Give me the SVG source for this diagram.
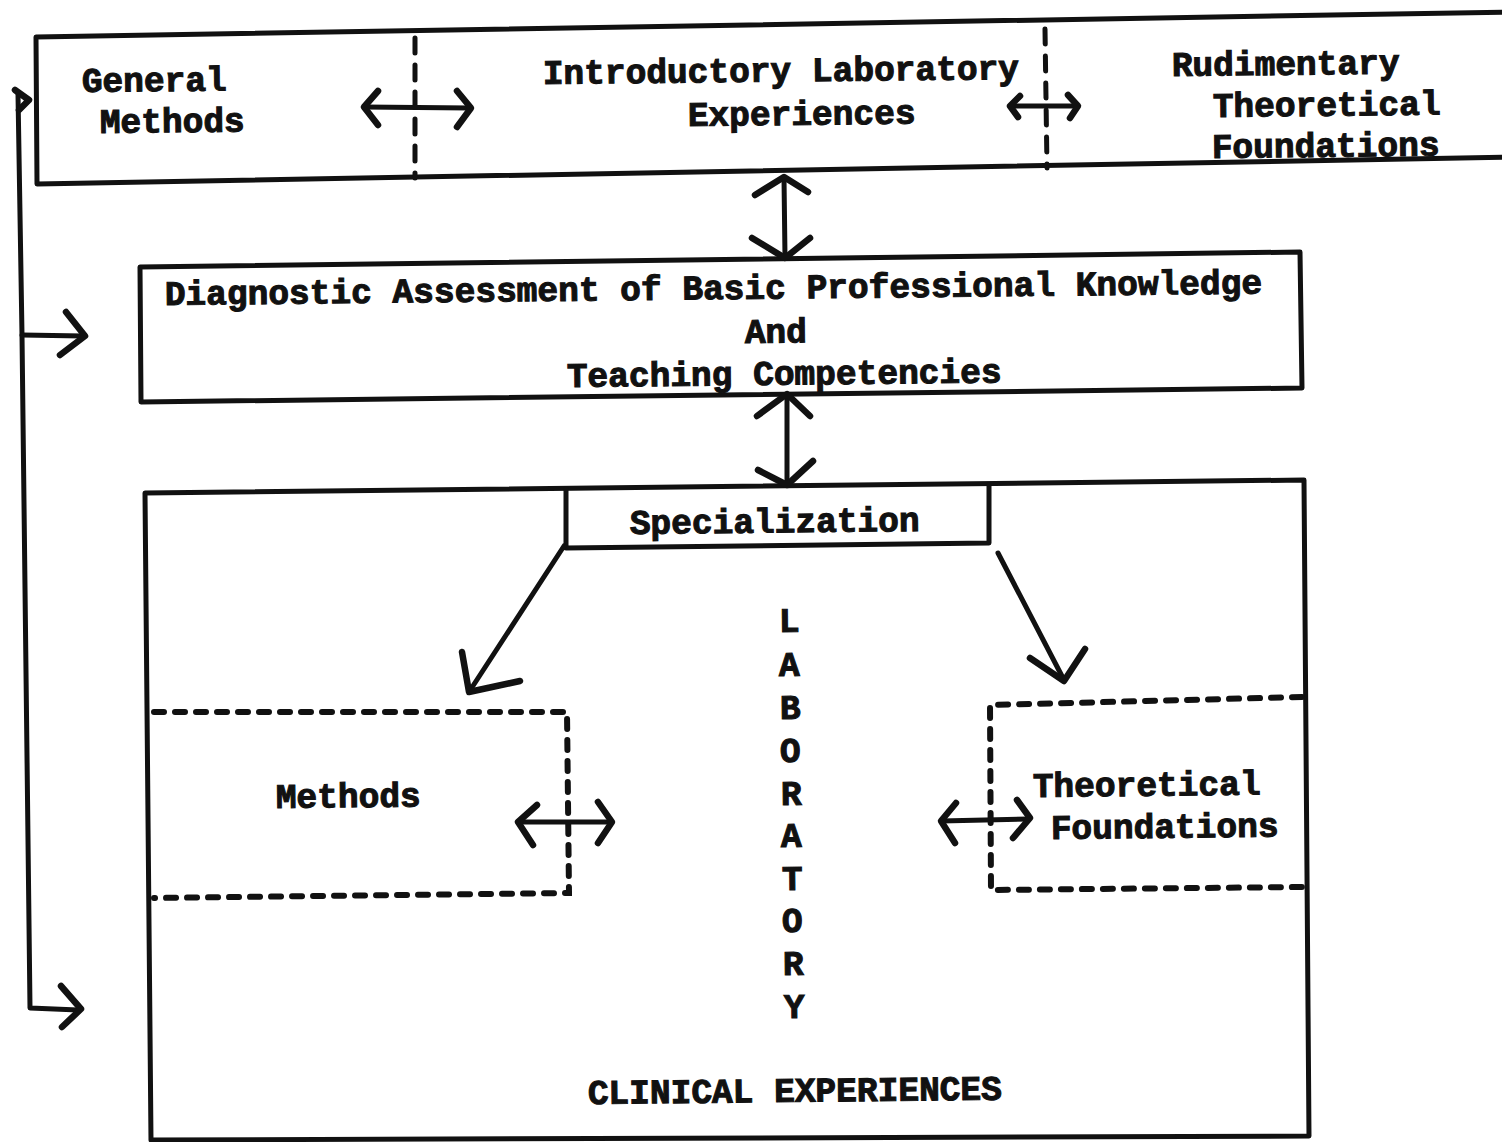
<svg xmlns="http://www.w3.org/2000/svg" width="1502" height="1142" viewBox="0 0 1502 1142">
  <style>
    .bg { fill: #ffffff; }
    .box { fill: none; stroke: #111; stroke-width: 5; stroke-linejoin: round; stroke-linecap: round; }
    .dash { fill: none; stroke: #111; stroke-width: 6; stroke-linecap: round; stroke-dasharray: 10 11; }
    .divider { fill: none; stroke: #111; stroke-width: 5; stroke-linecap: round; stroke-dasharray: 15 12; }
    .wire { fill: none; stroke: #111; stroke-width: 5; stroke-linecap: round; stroke-linejoin: round; }
    .head { fill: none; stroke: #111; stroke-width: 6.5; stroke-linecap: round; stroke-linejoin: round; }
    .lbl { font-family: "Liberation Mono", "Courier New", monospace; font-weight: bold; font-size: 34.5px; fill: #111; stroke: #111; stroke-width: 1.1;
           transform-box: fill-box; transform-origin: left bottom; transform: rotate(-0.6deg); }
  </style>

  <rect class="bg" x="0" y="0" width="1502" height="1142"/>

  <!-- Top row: three preparatory components in one frame -->
  <g id="node-foundation-row">
    <polyline class="box" points="1512,12 36,37 37,184 1512,157"/>
    <line class="divider" x1="415" y1="38" x2="415" y2="178"/>
    <line class="divider" x1="1045" y1="29" x2="1047" y2="168" stroke-dasharray="18 28 12 46 1 40 22 0"/>
    <g id="node-general-methods">
      <text class="lbl" x="82" y="92">General</text>
      <text class="lbl" x="100" y="133">Methods</text>
    </g>
    <g id="node-intro-lab">
      <text class="lbl" x="543" y="84">Introductory Laboratory</text>
      <text class="lbl" x="688" y="126">Experiences</text>
    </g>
    <g id="node-rudimentary">
      <text class="lbl" x="1172" y="76">Rudimentary</text>
      <text class="lbl" x="1213" y="117">Theoretical</text>
      <text class="lbl" x="1212" y="158">Foundations</text>
    </g>
  </g>

  <!-- Diagnostic assessment -->
  <g id="node-diagnostic">
    <polygon class="box" points="140,267 1300,252 1302,388 141,402"/>
    <text class="lbl" x="165" y="305">Diagnostic Assessment of Basic Professional Knowledge</text>
    <text class="lbl" x="745" y="343">And</text>
    <text class="lbl" x="567" y="387">Teaching Competencies</text>
  </g>

  <!-- Clinical experiences frame -->
  <g id="node-clinical">
    <polygon class="box" points="145,493 1304,480 1309,1136 151,1140"/>
    <text class="lbl" x="588" y="1104">CLINICAL EXPERIENCES</text>
  </g>

  <!-- Specialization tab -->
  <g id="node-specialization">
    <polyline class="box" points="566,489 566,548 989,543 989,485"/>
    <text class="lbl" x="630" y="534">Specialization</text>
  </g>

  <!-- Laboratory, set vertically -->
  <g id="node-laboratory">
    <text class="lbl" x="779" y="632">L</text>
    <text class="lbl" x="779" y="676">A</text>
    <text class="lbl" x="780" y="719">B</text>
    <text class="lbl" x="780" y="762">O</text>
    <text class="lbl" x="781" y="805">R</text>
    <text class="lbl" x="781" y="847">A</text>
    <text class="lbl" x="782" y="890">T</text>
    <text class="lbl" x="782" y="932">O</text>
    <text class="lbl" x="783" y="975">R</text>
    <text class="lbl" x="784" y="1018">Y</text>
  </g>

  <!-- Methods (dashed) -->
  <g id="node-methods">
    <polyline class="dash" points="154,712 567,712 569,893 154,898"/>
    <text class="lbl" x="276" y="808">Methods</text>
  </g>

  <!-- Theoretical foundations (dashed) -->
  <g id="node-theoretical">
    <polyline class="dash" points="1302,697 990,705 991,890 1302,887"/>
    <text class="lbl" x="1033" y="797">Theoretical</text>
    <text class="lbl" x="1051" y="839">Foundations</text>
  </g>

  <!-- Connectors -->
  <g id="connectors">
    <!-- two-way arrows inside the top row -->
    <line class="wire" x1="364" y1="107" x2="470" y2="108"/>
    <polyline class="head" points="378,91 364,107 378,125"/>
    <polyline class="head" points="457,91 471,108 457,127"/>
    <line class="wire" x1="1010" y1="106" x2="1078" y2="106"/>
    <polyline class="head" points="1020,96 1010,106 1018,117"/>
    <polyline class="head" points="1068,95 1078,106 1070,118"/>

    <!-- top row <-> diagnostic -->
    <line class="wire" x1="784" y1="178" x2="785" y2="257"/>
    <polyline class="head" points="755,195 784,177 808,192"/>
    <polyline class="head" points="752,238 785,258 810,238"/>

    <!-- diagnostic <-> clinical -->
    <line class="wire" x1="787" y1="394" x2="787" y2="484"/>
    <polyline class="head" points="757,416 787,394 810,416"/>
    <polyline class="head" points="758,470 787,485 813,461"/>

    <!-- specialization branches -->
    <line class="wire" x1="564" y1="546" x2="469" y2="692"/>
    <polyline class="head" points="462,652 469,692 520,681"/>
    <line class="wire" x1="998" y1="553" x2="1064" y2="680"/>
    <polyline class="head" points="1030,658 1064,681 1085,649"/>

    <!-- methods <-> laboratory, laboratory <-> theoretical -->
    <line class="wire" x1="518" y1="822" x2="612" y2="822"/>
    <polyline class="head" points="537,805 518,822 533,845"/>
    <polyline class="head" points="598,802 612,822 598,843"/>
    <line class="wire" x1="941" y1="821" x2="1029" y2="819"/>
    <polyline class="head" points="956,803 941,821 955,843"/>
    <polyline class="head" points="1017,800 1030,818 1013,838"/>

    <!-- feedback line on the left -->
    <polyline class="wire" points="18,94 22,335 30,1008 78,1010"/>
    <polyline class="head" points="15,90 29,100 19,110"/>
    <line class="wire" x1="22" y1="335" x2="83" y2="336"/>
    <polyline class="head" points="66,312 85,336 60,355"/>
    <polyline class="head" points="61,986 81,1009 62,1027"/>
  </g>
</svg>
